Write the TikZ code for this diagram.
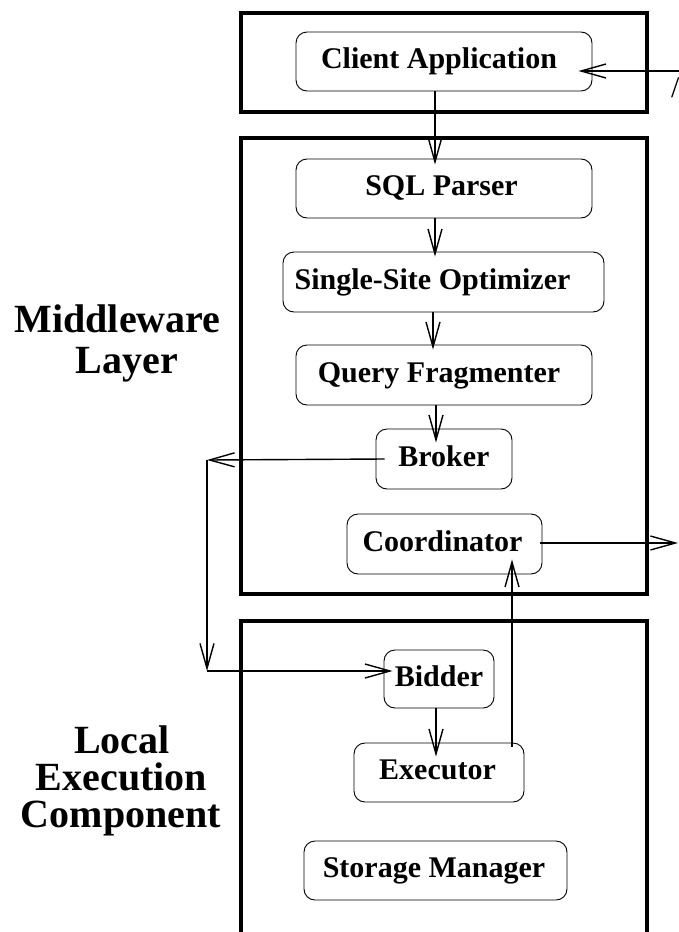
\documentclass[tikz,border=0pt]{standalone}
\usepackage{fontspec}
\setmainfont{Liberation Serif}
\usetikzlibrary{arrows.meta}
\tikzset{
  frame/.style={line width=4.6pt},
  comp/.style={draw, line width=0.9pt, rounded corners=11pt, inner sep=0pt,
    font=\fontsize{30}{36}\selectfont\bfseries, text height=21pt, text depth=7pt},
  layer/.style={inner sep=0pt, anchor=base, text height=27pt, text depth=1pt,
    font=\fontsize{40}{40}\selectfont\bfseries},
  flow/.style={line width=1.4pt, -{Straight Barb[length=25pt,width=14pt,line width=1.4pt]}},
}
\begin{document}
\begin{tikzpicture}[x=1pt,y=-1pt]
\useasboundingbox (0,0) rectangle (678,932);
% frames
\draw[frame] (241,13) rectangle (647,112);
\draw[frame] (241,138) rectangle (647,594);
\draw[frame] (241,621) rectangle (647,934);
% components
\node[comp, minimum width=296pt, minimum height=59pt] (client) at (444,61.5) {Client Application\hspace*{10pt}};
\node[comp, minimum width=296pt, minimum height=59pt] (sql) at (444,188.5) {SQL Parser\hspace*{5pt}};
\node[comp, minimum width=321pt, minimum height=60pt] (opt) at (443.5,282) {Single-Site Optimizer\hspace*{22pt}};
\node[comp, minimum width=296pt, minimum height=60pt] (query) at (444,375) {Query Fragmenter\hspace*{10pt}};
\node[comp, minimum width=136pt, minimum height=60pt] (broker) at (444,459) {Broker};
\node[comp, minimum width=195pt, minimum height=60pt] (coord) at (444.5,544) {Coordinator\hspace*{4pt}};
\node[comp, minimum width=110pt, minimum height=58pt] (bidder) at (439,679) {Bidder};
\node[comp, minimum width=170pt, minimum height=59pt] (exec) at (439,772.5) {Executor\hspace*{3pt}};
\node[comp, minimum width=263pt, minimum height=59pt] (storage) at (435.5,870.5) {Storage Manager\hspace*{3pt}};
% layer labels
\node[layer] (mw1) at (117.5,332) {Middleware};
\node[layer] (mw2) at (127,373) {Layer};
\node[layer] (le1) at (122,753) {Local};
\node[layer] (le2) at (121.5,790) {Execution};
\node[layer] (le3) at (121,827) {Component};
% cut-off text at the right edge
\node[inner sep=0pt, anchor=base west, font=\fontsize{30}{30}\selectfont] (cut) at (671,97) {/};
% free ends
\coordinate (inR) at (680,71);
\coordinate (outR) at (678,543);
\coordinate (cTop) at (207,460);
\coordinate (cBot) at (207,671);
% connectors
\draw[flow] (inR) -- ([xshift=-14pt]client.east |- inR);
\draw[flow] ([xshift=-9pt]client.south) -- ([xshift=-9pt,yshift=-6pt]sql.north);
\draw[flow] ([xshift=-9pt]sql.south) -- ([xshift=-8.5pt,yshift=-5pt]opt.north);
\draw[flow] ([xshift=-10.5pt]opt.south) -- ([xshift=-11pt,yshift=-5pt]query.north);
\draw[flow] ([xshift=-8pt]query.south) -- ([xshift=-8pt,yshift=-14pt]broker.north);
\draw[flow] ([xshift=9pt]broker.west) -- (cTop);
\draw[flow] (cTop) -- (cBot);
\draw[flow] (cBot) -- ([xshift=9pt]bidder.west |- cBot);
\draw[flow] ([xshift=-3pt]bidder.south) -- ([xshift=-3pt,yshift=-14pt]exec.north);
\draw[flow] ([xshift=-2.5pt]coord.east |- outR) -- (outR);
\draw[flow] ([xshift=73pt,yshift=-4pt]exec.north) -- ([xshift=67.5pt,yshift=15pt]coord.south);
\end{tikzpicture}
\end{document}
